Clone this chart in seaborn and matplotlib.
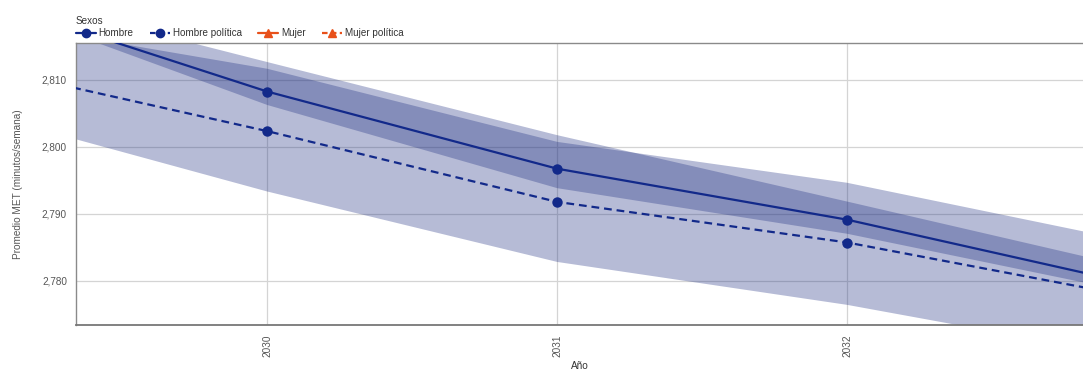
import matplotlib
matplotlib.use("Agg")
import matplotlib.pyplot as plt
from matplotlib.lines import Line2D
from matplotlib.ticker import FuncFormatter
import seaborn as sns
import pandas as pd

# ---- data ----
years = [2029, 2030, 2031, 2032, 2033]
hombre = [2822.2, 2808.2, 2796.7, 2789.1, 2779.4]
hombre_low = [2822.0, 2806.2, 2793.8, 2787.0, 2778.1]
hombre_high = [2823.6, 2812.6, 2801.7, 2791.8, 2781.8]
hombre_pol = [2812.0, 2802.3, 2791.75, 2785.7, 2777.5]
hombre_pol_low = [2805.1, 2793.3, 2782.8, 2776.4, 2768.5]
hombre_pol_high = [2819.0, 2811.6, 2800.7, 2794.6, 2785.7]
series_names = ["Hombre", "Hombre política", "Mujer", "Mujer política"]
x_ticks = [2030, 2031, 2032]
y_ticks = [2780, 2790, 2800, 2810]

navy = "#12298a"
band = "#1c2c80"
orange = "#e8501a"

df = pd.DataFrame({
    "Año": years * 2,
    "valor": hombre + hombre_pol,
    "serie": ["Hombre"] * len(years) + ["Hombre política"] * len(years),
})

sns.set_theme(style="white")
plt.rcParams["font.family"] = ["Liberation Sans", "DejaVu Sans"]

fig = plt.figure(figsize=(10.83, 3.72), dpi=100)
ax = fig.add_axes([76 / 1083, (372 - 325) / 372, 1 - 76 / 1083, (325 - 43.3) / 372])

ax.fill_between(years, hombre_pol_low, hombre_pol_high, color=band, alpha=0.32, lw=0, zorder=1)
ax.fill_between(years, hombre_low, hombre_high, color=band, alpha=0.32, lw=0, zorder=1)

sns.lineplot(data=df, x="Año", y="valor", style="serie",
             dashes={"Hombre": "", "Hombre política": (3.5, 2.2)},
             markers={"Hombre": "o", "Hombre política": "o"},
             color=navy, linewidth=1.6, markersize=7.5, markeredgewidth=0,
             legend=False, ax=ax, zorder=3)

ax.set_xlim(2029.34, 2032.813)
ax.set_ylim(2773.4, 2815.4)
ax.set_xticks(x_ticks)
ax.set_xticklabels([str(t) for t in x_ticks], rotation=90)
ax.set_yticks(y_ticks)
ax.yaxis.set_major_formatter(FuncFormatter(lambda v, p: f"{int(round(v)):,}"))
ax.grid(True, color="#d4d4d4", linewidth=0.9)
ax.set_axisbelow(True)
ax.tick_params(axis="both", length=0, labelsize=7.2, labelcolor="#555555")
ax.tick_params(axis="y", pad=6.5)
ax.tick_params(axis="x", pad=7)
for side in ["left", "top", "bottom"]:
    ax.spines[side].set_color("#8a8a8a")
    ax.spines[side].set_linewidth(1.0)
ax.spines["bottom"].set_color("#777777")
ax.spines["bottom"].set_linewidth(1.3)
ax.spines["right"].set_visible(False)

ax.set_xlabel("Año", fontsize=7.2, color="#333333", labelpad=3)
ax.set_ylabel("Promedio MET (minutos/semana)", fontsize=7.2, color="#555555", labelpad=13.5)

handles = [
    Line2D([], [], color=navy, lw=1.6, marker="o", markersize=6),
    Line2D([], [], color=navy, lw=1.6, ls=(0, (2.5, 1.5)), marker="o", markersize=6),
    Line2D([], [], color=orange, lw=1.6, marker="^", markersize=5.5),
    Line2D([], [], color=orange, lw=1.6, ls=(0, (2.5, 1.5)), marker="^", markersize=5.5),
]
leg = fig.legend(handles, series_names, title="Sexos", loc="lower left",
                 bbox_to_anchor=(75 / 1083, (372 - 39) / 372), ncol=4, frameon=False,
                 fontsize=7.1, title_fontsize=7.1, handlelength=2.0, handletextpad=0.3,
                 columnspacing=1.68, labelspacing=0.2, borderaxespad=0, borderpad=0.1,
                 alignment="left")
for t in leg.get_texts():
    t.set_color("#333333")
leg.get_title().set_color("#333333")

fig.savefig("out.png", dpi=100)
